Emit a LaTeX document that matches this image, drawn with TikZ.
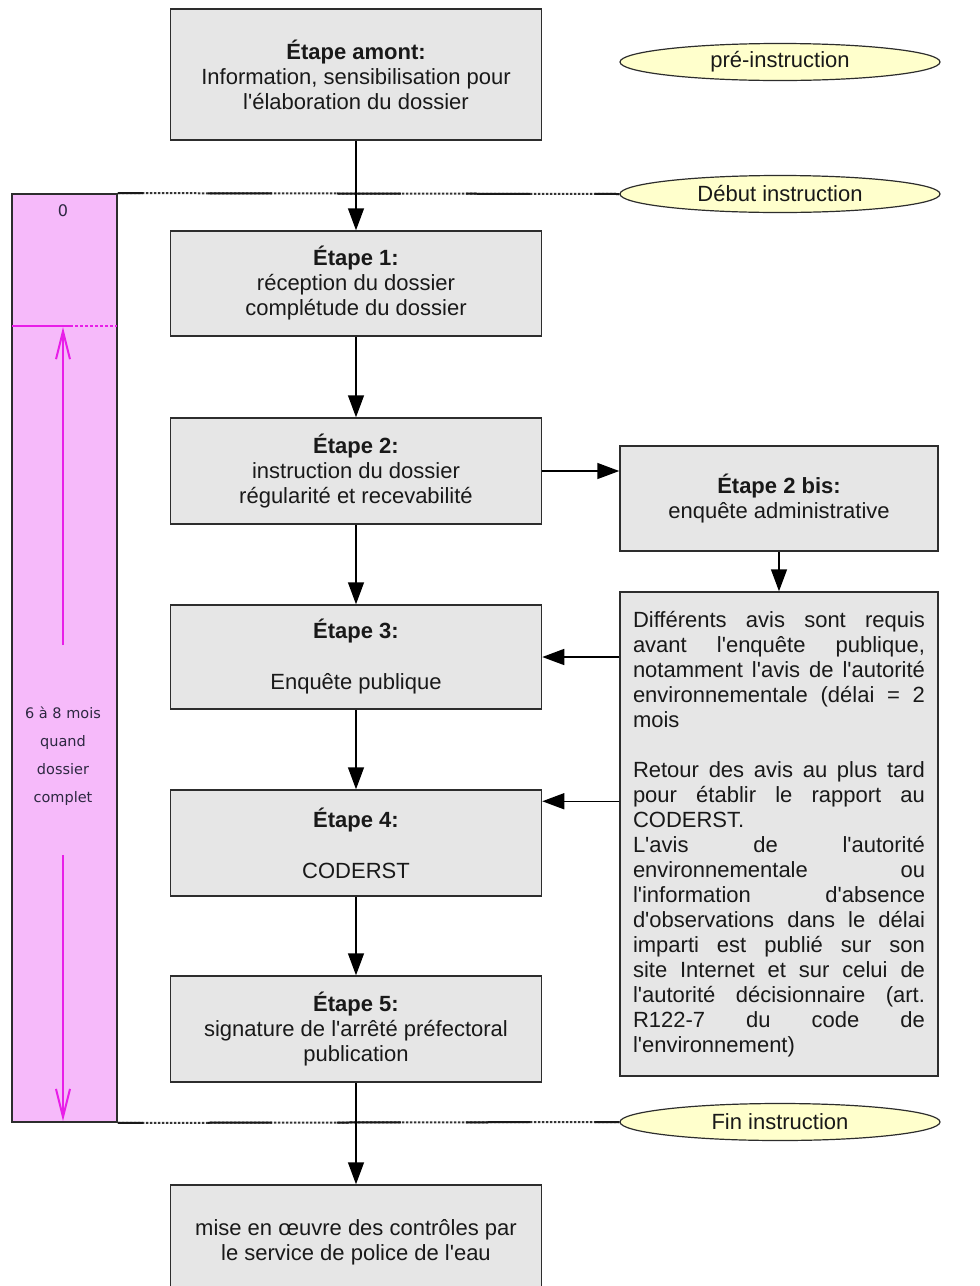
\documentclass[tikz,border=0pt]{standalone}
\usepackage{fontspec}
\newfontfamily\arialf{Liberation Sans}
\newfontfamily\dejaf{DejaVu Sans}
\usetikzlibrary{arrows.meta,shapes.geometric}
\definecolor{boxfill}{RGB}{230,230,230}
\definecolor{boxdraw}{RGB}{45,45,45}
\definecolor{ellfill}{RGB}{255,255,204}
\definecolor{barfill}{RGB}{246,186,250}
\definecolor{mag}{RGB}{232,30,232}
\definecolor{txt}{RGB}{25,25,25}
\definecolor{bartxt}{RGB}{45,40,65}
\newcommand{\J}[1]{\makebox[292pt][s]{\spaceskip=0.278em plus 1fil\relax #1}}
\begin{document}
\begin{tikzpicture}[x=1pt,y=-1pt,
  stepbox/.style={draw=boxdraw, line width=1.5pt, fill=boxfill, minimum width=371pt,
    inner sep=0pt, align=center, font=\arialf\fontsize{22}{25}\selectfont, text=txt},
  ellnode/.style={ellipse, draw=boxdraw, line width=1.2pt, fill=ellfill, minimum width=320pt,
    minimum height=37pt, inner sep=0pt, font=\arialf\fontsize{22}{25}\selectfont, text=txt},
  arr/.style={line width=1.5pt, draw=black, -{Triangle[length=22pt,width=16pt]}},
  dotline/.style={line width=2pt, draw=black!80, dash pattern=on 2.5pt off 1.5pt},
  solidseg/.style={line width=2pt, draw=black!90, dash pattern=on 64pt off 65pt, dash phase=39pt},
  bartext/.style={font=\dejaf\fontsize{14.5}{28}\selectfont, text=bartxt, align=center, inner sep=0pt},
  magarr/.style={draw=mag, line width=2pt, -{Straight Barb[length=28pt,width=14pt,line width=2pt]}}
]
\useasboundingbox (0,0) rectangle (980,1286);
\fill[white] (0,0) rectangle (980,1286);

% pink duration bar
\node[draw=boxdraw, line width=1.8pt, fill=barfill, minimum width=105pt, minimum height=928pt, inner sep=0pt] (bar) at (64.5,658) {};
\node[bartext, font=\dejaf\fontsize{16}{20}\selectfont] (zero) at (63,211) {0};
\node[bartext] (dur) at (63,756) {6 à 8 mois\\quand\\dossier\\complet};
\coordinate (divl) at (12,326);
\coordinate (divm) at (70,326);
\coordinate (divr) at (117,326);
\draw[mag, line width=1.5pt] (divl) -- (divm);
\draw[mag, line width=1.5pt, dash pattern=on 3pt off 2pt] (divm) -- (divr);
\coordinate (upstart) at (63,645);
\coordinate (uptip) at (63,327);
\coordinate (downstart) at (63,855);
\coordinate (downtip) at (63,1121);
\draw[magarr] (upstart) -- (uptip);
\draw[magarr] (downstart) -- (downtip);

% ellipses
\node[ellnode] (pre) at (780,62) {pré-instruction};
\node[ellnode] (debut) at (780,194) {Début instruction};
\node[ellnode] (fin) at (780,1122) {Fin instruction};

% instruction lines
\draw[dotline] (bar.north east) -- (debut.west);
\draw[solidseg] (bar.north east) -- (debut.west);
\draw[dotline] (bar.south east) -- (fin.west);
\draw[solidseg] (bar.south east) -- (fin.west);

% steps
\node[stepbox, minimum height=131pt] (amont) at (356,74.5) {\textbf{Étape amont:}\\Information, sensibilisation pour\\l'élaboration du dossier};
\node[stepbox, minimum height=105pt] (e1) at (356,283.5) {\textbf{Étape 1:}\\réception du dossier\\complétude du dossier};
\node[stepbox, minimum height=106pt] (e2) at (356,471) {\textbf{Étape 2:}\\instruction du dossier\\régularité et recevabilité};
\node[stepbox, minimum height=104pt] (e3) at (356,657) {\textbf{Étape 3:}\\[26pt]Enquête publique};
\node[stepbox, minimum height=106pt] (e4) at (356,843) {\textbf{Étape 4:}\\[26pt]CODERST};
\node[stepbox, minimum height=106pt] (e5) at (356,1029) {\textbf{Étape 5:}\\signature de l'arrêté préfectoral\\publication};
\node[stepbox, minimum height=115pt] (last) at (356,1242.5) {mise en œuvre des contrôles par\\le service de police de l'eau};

\node[stepbox, minimum width=318pt, minimum height=105pt] (e2b) at (779,498.5) {\textbf{Étape 2 bis:}\\enquête administrative};
\node[stepbox, minimum width=318pt, minimum height=484pt, text width=292pt, align=left] (avis) at (779,834) {%
\J{Différents avis sont requis}\\
\J{avant l'enquête publique,}\\
\J{notamment l'avis de l'autorité}\\
\J{environnementale (délai = 2}\\
mois\\[25pt]
\J{Retour des avis au plus tard}\\
\J{pour établir le rapport au}\\
CODERST.\\
\J{L'avis de l'autorité}\\
\J{environnementale ou}\\
\J{l'information d'absence}\\
\J{d'observations dans le délai}\\
\J{imparti est publié sur son}\\
\J{site Internet et sur celui de}\\
\J{l'autorité décisionnaire (art.}\\
\J{R122-7 du code de}\\
l'environnement)};

% connectors
\draw[arr] (amont.south) -- (e1.north);
\draw[arr] (e1.south) -- (e2.north);
\draw[arr] (e2.south) -- (e3.north);
\draw[arr] (e3.south) -- (e4.north);
\draw[arr] (e4.south) -- (e5.north);
\draw[arr] (e5.south) -- (last.north);
\draw[arr] (e2.east) -- (e2.east -| e2b.west);
\draw[arr] (e2b.south) -- (avis.north);
\draw[arr] (avis.west |- e3.east) -- (e3.east);
\coordinate (e4in) at ([yshift=-12pt]e4.north east);
\draw[arr] (avis.west |- e4in) -- (e4in);
\end{tikzpicture}
\end{document}
